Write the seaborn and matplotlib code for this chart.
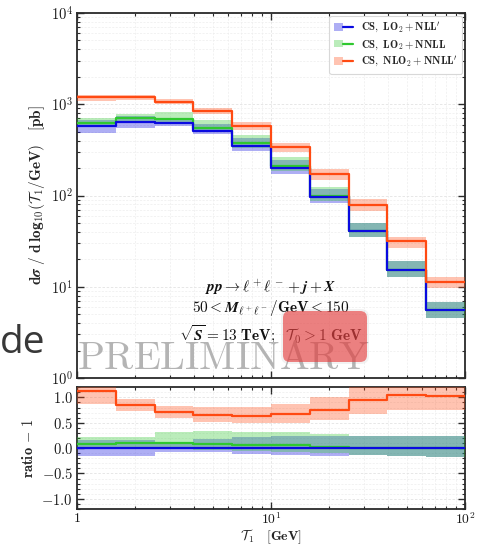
import numpy as np
import pandas as pd
import matplotlib
matplotlib.use("Agg")
import matplotlib.pyplot as plt
import seaborn as sns
from matplotlib.patches import FancyBboxPatch, Patch
from matplotlib.lines import Line2D
from matplotlib.ticker import FuncFormatter, FixedLocator, LogLocator, NullFormatter, MultipleLocator
from matplotlib.legend_handler import HandlerTuple

# ---------------- data ----------------
bin_edges = [1.0, 1.585, 2.512, 3.981, 6.310, 10.0, 15.85, 25.12, 39.81, 63.10, 100.0]

xs_lo2_nllp = [573, 640, 625, 509, 351, 200, 96.5, 40.6, 15.3, 5.5]        # CS, LO2 + NLL'
xs_lo2_nnll = [625, 704, 688, 550, 372, 212, 99.4, 41.0, 15.4, 5.53]       # CS, LO2 + NNLL
xs_nlo2_nnllp = [1215, 1190, 1069, 840, 572, 336, 170, 78.8, 31.4, 11.2]   # CS, NLO2 + NNLL'

# uncertainty bands, expressed as (value / LO2+NLL' central) - 1
band_lo2_nllp_lo = [-0.15, -0.15, -0.08, -0.08, -0.12, -0.14, -0.15, -0.14, -0.16, -0.17]
band_lo2_nllp_hi = [0.16, 0.16, 0.11, 0.18, 0.21, 0.24, 0.23, 0.23, 0.24, 0.24]
band_lo2_nnll_lo = [0.00, 0.00, -0.02, -0.03, -0.06, -0.08, -0.10, -0.14, -0.16, -0.17]
band_lo2_nnll_hi = [0.22, 0.22, 0.31, 0.33, 0.31, 0.31, 0.27, 0.23, 0.24, 0.24]
band_nlo2_nnllp_lo = [0.88, 0.74, 0.60, 0.52, 0.49, 0.50, 0.55, 0.68, 0.76, 0.75]
band_nlo2_nnllp_hi = [1.22, 0.97, 0.83, 0.81, 0.81, 0.87, 1.01, 1.25, 1.30, 1.30]

series_labels = [r"$CS,\ LO_2+NLL^{\prime}$", r"$CS,\ LO_2+NNLL$", r"$CS,\ NLO_2+NNLL^{\prime}$"]
series_colors = ["#0a0ae0", "#2fc82f", "#ff4a12"]
line_z = [6, 5, 7]

# ---------------- style ----------------
sns.set_theme(style="ticks")
plt.rcParams["font.family"] = ["DejaVu Sans"]
plt.rcParams["mathtext.fontset"] = "cm"
plt.rcParams["mathtext.default"] = "bf"
plt.rcParams["axes.edgecolor"] = "#2a2a2a"
plt.rcParams["axes.linewidth"] = 1.3

fig = plt.figure(figsize=(4.94, 5.45), dpi=100)
ax = fig.add_axes([0.1559, 0.3064, 0.7854, 0.6697])
axr = fig.add_axes([0.1559, 0.0661, 0.7854, 0.2233], sharex=ax)

edges = np.array(bin_edges)
ref = np.array(xs_lo2_nllp, dtype=float)
centrals = [np.array(xs_lo2_nllp, float), np.array(xs_lo2_nnll, float), np.array(xs_nlo2_nnllp, float)]
bands = [(band_lo2_nllp_lo, band_lo2_nllp_hi),
         (band_lo2_nnll_lo, band_lo2_nnll_hi),
         (band_nlo2_nnllp_lo, band_nlo2_nnllp_hi)]

def ext(a):
    a = np.asarray(a, float)
    return np.append(a, a[-1])

for a in (ax, axr):
    a.set_xscale("log")
ax.set_yscale("log")

for i, (val, (blo, bhi), col, lab, lz) in enumerate(zip(centrals, bands, series_colors, series_labels, line_z)):
    blo = np.array(blo); bhi = np.array(bhi)
    ax.fill_between(edges, ext(ref * (1 + blo)), ext(ref * (1 + bhi)), step="post",
                    color=col, alpha=0.33, lw=0, zorder=2 + i)
    df = pd.DataFrame({"x": edges, "y": ext(val)})
    sns.lineplot(data=df, x="x", y="y", ax=ax, color=col, lw=1.6, drawstyle="steps-post",
                 sort=False, estimator=None, zorder=lz)
    axr.fill_between(edges, ext(blo), ext(bhi), step="post", color=col, alpha=0.33, lw=0, zorder=2 + i)
    dfr = pd.DataFrame({"x": edges, "y": ext(val / ref - 1)})
    sns.lineplot(data=dfr, x="x", y="y", ax=axr, color=col, lw=1.6, drawstyle="steps-post",
                 sort=False, estimator=None, zorder=lz)

ax.set_xlim(1, 100)
ax.set_ylim(1, 1e4)
axr.set_ylim(-1.2, 1.2)

def xfmt(v, pos):
    n = int(round(np.log10(v)))
    return r"$1$" if n == 0 else r"$10^{%d}$" % n

ax.yaxis.set_major_locator(LogLocator(base=10, numticks=10))
ax.yaxis.set_minor_locator(LogLocator(base=10, subs=np.arange(2, 10), numticks=10))
ax.yaxis.set_major_formatter(FuncFormatter(lambda v, p: r"$10^{%d}$" % int(round(np.log10(v)))))
ax.yaxis.set_minor_formatter(NullFormatter())
axr.xaxis.set_major_locator(FixedLocator([1, 10, 100]))
axr.xaxis.set_minor_locator(LogLocator(base=10, subs=np.arange(2, 10), numticks=10))
axr.xaxis.set_major_formatter(FuncFormatter(xfmt))
axr.xaxis.set_minor_formatter(NullFormatter())
plt.setp(ax.get_xticklabels(), visible=False)
axr.yaxis.set_major_locator(MultipleLocator(0.5))
axr.yaxis.set_minor_locator(MultipleLocator(0.1))
axr.yaxis.set_major_formatter(FuncFormatter(lambda v, p: r"$%.1f$" % (0.0 if abs(v) < 1e-9 else v)))

for a in (ax, axr):
    a.tick_params(which="both", direction="in", top=True, right=True, colors="#2a2a2a",
                  labelcolor="#1a1a1a", labelsize=10.5, pad=3)
    a.tick_params(which="major", length=5, width=1.0)
    a.tick_params(which="minor", length=2.5, width=0.8)
    a.grid(True, which="major", color="#e3e3e3", lw=0.6, ls=(0, (3, 2)))
    a.grid(True, which="minor", color="#ededed", lw=0.5, ls=(0, (3, 2)))
    a.set_axisbelow(True)
    for s in a.spines.values():
        s.set_linewidth(1.3)
        s.set_color("#2a2a2a")
axr.tick_params(axis="x", which="both", pad=1.5, labelsize=9.8)

ax.set_xlabel("")
ax.set_ylabel(r"$d\boldsymbol{\sigma}\ /\ d\,log_{10}(\mathcal{T}_1/GeV)\quad [pb]$", fontsize=11, labelpad=3)
axr.set_ylabel(r"$ratio\,-\,1$", fontsize=10.5, labelpad=4)
axr.set_xlabel("")
fig.text(0.5494, 1 - 540 / 545, r"$\mathcal{T}_1\quad [GeV]$", fontsize=10, ha="center", va="baseline")

# legend
handles = [(Patch(facecolor=c, alpha=0.33, lw=0), Line2D([], [], color=c, lw=1.6)) for c in series_colors]
leg = ax.legend(handles, series_labels, loc="upper right", fontsize=7.8,
                handler_map={tuple: HandlerTuple(ndivide=None, pad=0)},
                frameon=True, fancybox=True, framealpha=1, edgecolor="#d8d8d8", borderaxespad=0.3,
                handlelength=1.8, handletextpad=0.7, labelspacing=0.3)
leg.get_frame().set_linewidth(0.8)

# annotations
ax.text(0.50, 0.249, r"$\boldsymbol{pp} \to \boldsymbol{\ell^+\ell^-} + \boldsymbol{j} + \boldsymbol{X}$",
        transform=ax.transAxes, ha="center", va="center", fontsize=11, color="#111111", zorder=10)
ax.text(0.50, 0.191, r"$50 < \boldsymbol{M}_{\boldsymbol{\ell^+\ell^-}}/GeV < 150$",
        transform=ax.transAxes, ha="center", va="center", fontsize=11, color="#111111", zorder=10)
ax.text(0.50, 0.120, r"$\sqrt{\boldsymbol{S}} = 13\ TeV;\ \ \mathcal{T}_0 > 1\ GeV$",
        transform=ax.transAxes, ha="center", va="center", fontsize=11, color="#111111", zorder=10)

# watermark and overlays
fig.text(77 / 494, 1 - 369 / 545, r"$\mathrm{PRELIMINARY}$", fontsize=28.5, color="#b4b4b4",
         ha="left", va="baseline", zorder=20)
fig.text(0.0, 1 - 353 / 545, "de", family=["Open Sans", "DejaVu Sans"], fontsize=28, color="#383838",
         ha="left", va="baseline", zorder=20)
shadow = FancyBboxPatch((281 / 494, 1 - 364 / 545), 88 / 494, 55 / 545,
                        boxstyle="round,pad=0,rounding_size=0.016", mutation_aspect=494 / 545,
                        transform=fig.transFigure, facecolor="#999999", alpha=0.12, lw=0, zorder=29)
box = FancyBboxPatch((283 / 494, 1 - 362 / 545), 84 / 494, 51 / 545,
                     boxstyle="round,pad=0,rounding_size=0.014", mutation_aspect=494 / 545,
                     transform=fig.transFigure, facecolor="#e83a3a", alpha=0.62, lw=0, zorder=30)
fig.patches.extend([shadow, box])

fig.savefig("out.png", dpi=100)
